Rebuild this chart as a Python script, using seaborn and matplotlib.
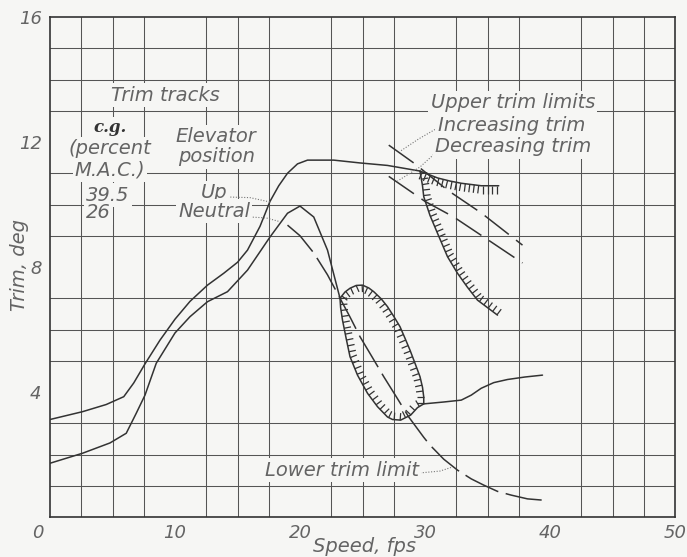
import numpy as np
import matplotlib
matplotlib.use("Agg")
import matplotlib.pyplot as plt
from matplotlib.collections import LineCollection
from matplotlib.transforms import ScaledTranslation
import seaborn as sns

# trim track, c.g. 39.5 percent M.A.C., elevator up
up_speed = [0, 2.6, 4.5, 5.9, 6.7, 7.6, 8.8, 10.0, 11.2, 12.6, 13.9, 15.0, 15.8,
            16.8, 17.6, 18.3, 19.0, 19.8, 20.6, 22.7, 24.8, 27.0, 29.6]
up_trim = [3.12, 3.37, 3.6, 3.85, 4.29, 4.9, 5.66, 6.33, 6.9, 7.42, 7.8, 8.15, 8.54,
           9.3, 10.1, 10.6, 11.0, 11.3, 11.42, 11.42, 11.33, 11.25, 11.07]
# upper trim limit (hatched) continuing the up track
up_limit_speed = [29.6, 31.0, 32.0, 32.9, 34.5, 35.9]
up_limit_trim = [11.07, 10.85, 10.75, 10.68, 10.6, 10.6]
# upper trim limit, decreasing branch (hatched)
drop_speed = [29.6, 29.8, 29.9, 30.4, 31.0, 31.8, 32.6, 33.4, 34.2, 35.0, 35.8]
drop_trim = [11.07, 10.6, 10.25, 9.65, 9.08, 8.33, 7.8, 7.35, 6.94, 6.7, 6.46]

# trim track, c.g. 26 percent M.A.C., elevator neutral
neu_speed = [0, 2.6, 4.8, 6.1, 6.9, 7.6, 8.5, 10.0, 11.2, 12.6, 14.2, 15.8,
             17.6, 19.0, 20.0, 21.1, 22.2, 23.2]
neu_trim = [1.72, 2.04, 2.37, 2.68, 3.32, 3.9, 4.92, 5.89, 6.41, 6.89, 7.21, 7.9,
            8.96, 9.72, 9.95, 9.6, 8.54, 7.0]
neu2_speed = [29.9, 31.5, 32.9, 33.7, 34.5, 35.5, 36.6, 38.0, 39.4]
neu2_trim = [3.62, 3.68, 3.74, 3.9, 4.12, 4.3, 4.4, 4.48, 4.54]

# lower trim limit loop (hatched inside)
loop_speed = [23.2, 23.6, 24.0, 24.5, 25.0, 25.5, 25.9, 26.5, 27.0, 27.5, 28.0, 28.4,
              28.8, 29.2, 29.6, 29.8, 29.9, 29.9, 29.4, 28.85, 28.05, 27.4, 27.0,
              26.2, 25.4, 24.6, 24.0, 23.7, 23.4, 23.25, 23.2]
loop_trim = [7.0, 7.2, 7.32, 7.41, 7.42, 7.33, 7.21, 6.98, 6.73, 6.42, 6.09, 5.72,
             5.34, 4.92, 4.49, 4.15, 3.84, 3.62, 3.5, 3.26, 3.1, 3.12, 3.2,
             3.53, 3.96, 4.54, 5.13, 5.7, 6.3, 6.7, 7.0]

# dashed track through the loop
dash_speed = [19.0, 20.0, 21.1, 22.2, 23.2, 24.0, 24.8, 25.8, 26.7, 27.7, 28.7,
              29.9, 30.4, 31.5, 32.6, 33.7, 34.7, 35.8, 36.9, 38.2, 39.4]
dash_trim = [9.34, 9.0, 8.45, 7.75, 7.0, 6.4, 5.77, 5.1, 4.49, 3.85, 3.2,
             2.55, 2.3, 1.85, 1.5, 1.22, 1.02, 0.82, 0.7, 0.58, 0.54]

# upper trim limits, increasing / decreasing trim
inc_speed = [27.1, 29.2, 31.8, 34.5, 37.8]
inc_trim = [11.9, 11.3, 10.46, 9.73, 8.7]
dec_speed = [27.1, 30.0, 32.3, 34.7, 37.8]
dec_trim = [10.9, 10.1, 9.6, 8.96, 8.13]

x_ticks = [0, 10, 20, 30, 40, 50]
y_ticks = [4, 8, 12, 16]

BG = '#f6f6f4'
INK = '#333333'
GRID = '#555555'
TXT = '#646464'

sns.set_style("white")
plt.rcParams['font.family'] = ['DejaVu Sans']

fig = plt.figure(figsize=(6.87, 5.57), dpi=100, facecolor=BG)
ax = fig.add_axes([50 / 687, 40 / 557, 625 / 687, 500 / 557], facecolor=BG)
ax.set_xlim(0, 50)
ax.set_ylim(0, 16)

ax.set_xticks(np.arange(0, 50.1, 2.5), minor=True)
ax.set_yticks(np.arange(0, 16.1, 1), minor=True)
ax.grid(which='minor', color=GRID, lw=0.75)
ax.set_axisbelow(True)
ax.set_xticks(x_ticks)
ax.set_yticks(y_ticks)
ax.tick_params(which='both', length=0, labelsize=13, labelcolor=TXT)
ax.tick_params(axis='x', pad=5)
ax.tick_params(axis='y', pad=6)
for lbl in ax.get_xticklabels() + ax.get_yticklabels():
    lbl.set_fontstyle('italic')
first = ax.get_xticklabels()[0]
first.set_transform(first.get_transform() + ScaledTranslation(-0.12, 0, fig.dpi_scale_trans))
for sp in ax.spines.values():
    sp.set_color(INK)
    sp.set_linewidth(1.2)


def track(xs, ys, ls='-'):
    sns.lineplot(x=xs, y=ys, ax=ax, color=INK, lw=1.1, linestyle=ls,
                 sort=False, estimator=None)


def hatch(xs, ys, side=1, step=5.0, length=7.0):
    """short ticks along a curve, right hand side for side=1"""
    pts = ax.transData.transform(np.column_stack([xs, ys]))
    seg = np.diff(pts, axis=0)
    seglen = np.hypot(seg[:, 0], seg[:, 1])
    s = np.concatenate([[0], np.cumsum(seglen)])
    where = np.arange(step / 2, s[-1], step)
    px = np.interp(where, s, pts[:, 0])
    py = np.interp(where, s, pts[:, 1])
    idx = np.clip(np.searchsorted(s, where) - 1, 0, len(seg) - 1)
    t = seg[idx] / seglen[idx, None]
    n = side * np.column_stack([t[:, 1], -t[:, 0]])
    start = np.column_stack([px, py])
    end = start + n * length
    inv = ax.transData.inverted()
    lines = [inv.transform(np.array([a, b])) for a, b in zip(start, end)]
    ax.add_collection(LineCollection(lines, colors=INK, linewidths=0.9))


track(up_speed, up_trim)
track(up_limit_speed, up_limit_trim)
track(drop_speed, drop_trim)
track(neu_speed, neu_trim)
track(neu2_speed, neu2_trim)
track(loop_speed, loop_trim)
track(dash_speed, dash_trim, ls=(0, (24, 5)))
track(inc_speed, inc_trim, ls=(0, (20, 6)))
track(dec_speed, dec_trim, ls=(0, (20, 6)))

hatch(up_limit_speed, up_limit_trim, side=1, step=4.5, length=8)
hatch(drop_speed, drop_trim, side=-1, step=5.5, length=7)
hatch(loop_speed, loop_trim, side=1, step=6, length=7)

# leader lines
lead = dict(color='#777777', lw=0.8, linestyle=(0, (1, 1.5)))
ax.plot([14.2, 16.0, 17.6], [10.24, 10.22, 10.08], **lead)
ax.plot([16.0, 17.3, 18.4], [9.6, 9.57, 9.45], **lead)
ax.plot([29.6, 31.2, 32.2], [1.41, 1.47, 1.6], **lead)
ax.plot([30.8, 29.5, 28.0], [12.4, 12.1, 11.7], **lead)
ax.plot([30.7, 29.6, 27.8], [11.6, 11.2, 10.75], **lead)

box = dict(facecolor=BG, edgecolor='none', pad=1.5)
kw = dict(fontsize=14, color=TXT, style='italic', bbox=box)
ax.text(9.2, 13.5, 'Trim tracks', ha='center', va='center', **kw)
ax.text(4.8, 12.45, 'c.g.', ha='center', va='center', fontsize=12, color='#333333',
        family='DejaVu Serif', weight='bold', style='italic', bbox=box)
ax.text(4.8, 11.8, '(percent', ha='center', va='center', **kw)
ax.text(4.8, 11.1, 'M.A.C.)', ha='center', va='center', **kw)
ax.text(2.9, 10.3, '39.5', ha='left', va='center', **kw)
ax.text(2.9, 9.73, '26', ha='left', va='center', **kw)
ax.text(13.3, 12.16, 'Elevator', ha='center', va='center', **kw)
ax.text(13.3, 11.52, 'position', ha='center', va='center', **kw)
ax.text(14.2, 10.37, 'Up', ha='right', va='center', **kw)
ax.text(16.0, 9.79, 'Neutral', ha='right', va='center', **kw)
ax.text(29.5, 1.5, 'Lower trim limit', ha='right', va='center', **kw)
ax.text(30.45, 13.25, 'Upper trim limits', ha='left', va='center', **kw)
ax.text(31.0, 12.54, 'Increasing trim', ha='left', va='center', **kw)
ax.text(30.8, 11.84, 'Decreasing trim', ha='left', va='center', **kw)

fig.text(364 / 687, 1 - 547 / 557, 'Speed, fps', ha='center', va='center',
         fontsize=14, color=TXT, style='italic')
fig.text(20 / 687, 1 - 265 / 557, 'Trim, deg', ha='center', va='center',
         rotation=90, fontsize=14, color=TXT, style='italic')

fig.savefig('out.png', dpi=100, facecolor=BG)
